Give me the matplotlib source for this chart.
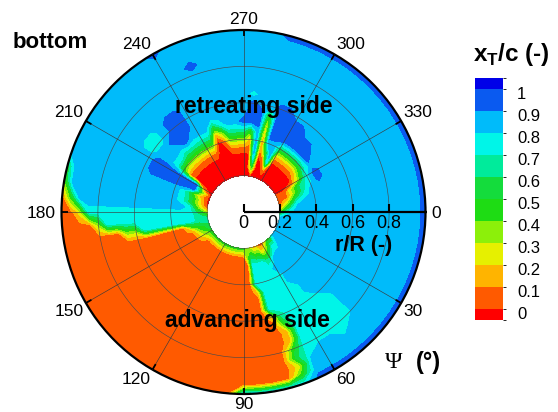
import numpy as np
import matplotlib as mpl
import matplotlib.pyplot as plt
from matplotlib.colors import ListedColormap, BoundaryNorm

plt.rcParams['font.family'] = ['Liberation Sans', 'DejaVu Sans']
plt.rcParams['mathtext.fontset'] = 'custom'
plt.rcParams['mathtext.rm'] = 'Liberation Sans'
plt.rcParams['mathtext.bf'] = 'Liberation Sans:bold'

# azimuth stations (deg) and radial stations (r/R)
psi_deg = np.arange(0, 360, 5)
r_R = [0.20, 0.25, 0.30, 0.35, 0.40, 0.45, 0.50, 0.55, 0.60,
       0.65, 0.70, 0.75, 0.80, 0.85, 0.90, 0.95, 1.00]

# x_T/c, one string per azimuth (inner -> outer radius)
# each char is the contour band: 0 = below 0, 1 = 0-0.1, ... 9 = 0.8-0.9, a = 0.9-1, b = above 1
xt_codes = [
    "4899999999999999a",  # 0
    "7999999999999999a",
    "9999999999999999a",
    "9999999999999999a",
    "9999999999999999a",
    "9999999999999999a",
    "9999999999999999a",  # 30
    "9999999999999999a",
    "8999999999999999a",
    "5899999998888999a",
    "5899999988888899a",
    "3699998888888999a",
    "1479888888888999a",  # 60
    "1378888888888899a",
    "25888888752256358",
    "25888888211111118",
    "36888211111111118",
    "44111111111111118",
    "51111111111111118",  # 90
    "51111111111111111",
    "51111111111111111",
    "51111111111111111",
    "51111111111111111",
    "51111111111111111",
    "51111111111111111",  # 120
    "51111111111111111",
    "51111111111111111",
    "51111111111111111",
    "51111111111111111",
    "52111111111111111",
    "53111111111111111",  # 150
    "64111111111111111",
    "65211111111111111",
    "76511111111111111",
    "77888888441111111",
    "57888888888841111",
    "36888888888888311",  # 180
    "14899999999999951",
    "03689999999999994",
    "03689999999999996",
    "02589999999999999",
    "04aaaaaa999999999",
    "01aaaaaa999999999",  # 210
    "00015899889999999",
    "00014899889999999",
    "0001479a999999999",
    "000147aaaa9999999",
    "0001479aaa9999999",
    "0001479999999999a",  # 240
    "00014799999999999",
    "0000026999999a999",
    "00001489999999999",
    "00014799999999999",
    "00014799999999999",
    "000147a9999999999",  # 270
    "000125aaa89999999",
    "058999aa999999999",
    "0001123599999999a",
    "00159aaaa9999999a",
    "01899aaaa9999999a",
    "00026aaa99999999a",  # 300
    "00026aaa99999999a",
    "00026aa999999999a",
    "00026aa999999999a",
    "00026a9999999999a",
    "0003799999999999a",
    "00148a9999999999a",  # 330
    "11478a9999999999a",
    "1147999999999999a",
    "1268999999999999a",
    "1489999999999999a",
    "2699999999999999a",
]
assert len(xt_codes) == len(psi_deg)
assert all(len(s) == len(r_R) for s in xt_codes)

xt_levels = [0, 0.1, 0.2, 0.3, 0.4, 0.5, 0.6, 0.7, 0.8, 0.9, 1]
band_colors = ['#ff0000', '#ff5a00', '#ffb400', '#e6f000', '#8cf00a', '#1edc14',
               '#14dc3c', '#00eb9b', '#00f5e8', '#00bbfa', '#0a5af0', '#0000e8']
r_ticks = [0, 0.2, 0.4, 0.6, 0.8]

codes = np.array([[int(ch, 16) for ch in col] for col in xt_codes], float)
xt = (codes.T - 0.5) / 10.0
xt = np.hstack([xt, xt[:, :1]])
theta = np.deg2rad(np.append(psi_deg, 360))

W, H = 558, 412
def px(x, y):
    return x / W, 1 - y / H

fig = plt.figure(figsize=(W / 100, H / 100), dpi=100)
ax = fig.add_axes([61.5 / W, 18 / H, 364 / W, 364 / H], projection='polar')
ax.set_theta_zero_location('E')
ax.set_theta_direction(-1)

ax.contourf(theta, r_R, xt, levels=[-1] + xt_levels + [2], colors=band_colors, zorder=1)

ax.set_ylim(0, 1)
ax.set_xticks([])
ax.set_yticks([])
ax.grid(False)
ax.spines['polar'].set_linewidth(1.6)

# grid circles and spokes
circ = np.linspace(0, 2 * np.pi, 361)
for rv in [0.2, 0.4, 0.6, 0.8]:
    ax.plot(circ, np.full_like(circ, rv), color='#4a4a4a', lw=0.45, zorder=3)
for a in range(30, 360, 30):
    t = np.deg2rad(a)
    ax.plot([t, t], [0.2, 1.0], color='#3a3a3a', lw=0.45, zorder=3)
    ax.plot([t, t], [0.965, 1.0], color='k', lw=1.3, zorder=4, solid_capstyle='butt')

# azimuth labels
for a in range(0, 360, 30):
    c, s = np.cos(np.deg2rad(a)), np.sin(np.deg2rad(a))
    ha = 'left' if c > 0.3 else ('right' if c < -0.3 else 'center')
    va = 'top' if s > 0.3 else ('bottom' if s < -0.3 else 'center_baseline')
    gap = 4 if va == 'center_baseline' else 2
    ax.annotate(str(a), xy=(np.deg2rad(a), 1.0), xytext=(gap * c, -gap * s),
                textcoords='offset points', ha=ha, va=va, fontsize=12.5,
                annotation_clip=False)

# radial axis along psi = 0
ax.plot([0, 0], [0, 1.0], color='k', lw=1.6, zorder=6, solid_capstyle='butt')
ax.plot(np.zeros(len(r_ticks)), r_ticks, ls='none', marker=2, ms=6, mew=1.5,
        color='k', zorder=6, clip_on=False)
for rv in r_ticks:
    ax.annotate(f'{rv:g}', xy=(0, rv), xytext=(0, -2), textcoords='offset points',
                ha='center', va='top', fontsize=13, zorder=7)

fig.text(*px(364, 246), 'r/R (-)', ha='center', va='center', fontsize=15.5, fontweight='bold')
fig.text(*px(13, 42), 'bottom', ha='left', va='center', fontsize=16, fontweight='bold')
fig.text(*px(254, 106), 'retreating side', ha='center', va='center', fontsize=16.5, fontweight='bold')
fig.text(*px(247.5, 320), 'advancing side', ha='center', va='center', fontsize=16.5, fontweight='bold')
fig.text(*px(393.5, 362), '\u03a8', ha='center', va='center', fontsize=17, family='Liberation Serif')
fig.text(*px(428, 363), '(\u00b0)', ha='center', va='center', fontsize=17, fontweight='bold')

# colour legend
cax = fig.add_axes([475 / W, 92 / H, 28 / W, 242 / H])
bounds = [-0.05] + xt_levels + [1.05]
cmap = ListedColormap(band_colors)
cb = mpl.colorbar.ColorbarBase(cax, cmap=cmap, norm=BoundaryNorm(bounds, cmap.N),
                               boundaries=bounds, spacing='proportional')
cb.outline.set_visible(False)
cb.set_ticks(np.array(xt_levels) - 0.018, labels=[f'{v:g}' for v in xt_levels])
cax.tick_params(length=0, pad=10, labelsize=12)
fig.text(*px(511, 55), r'x$_\mathbf{T}$/c (-)', ha='center', va='center',
         fontsize=17.5, fontweight='bold')

fig.savefig('out.png', dpi=100)
